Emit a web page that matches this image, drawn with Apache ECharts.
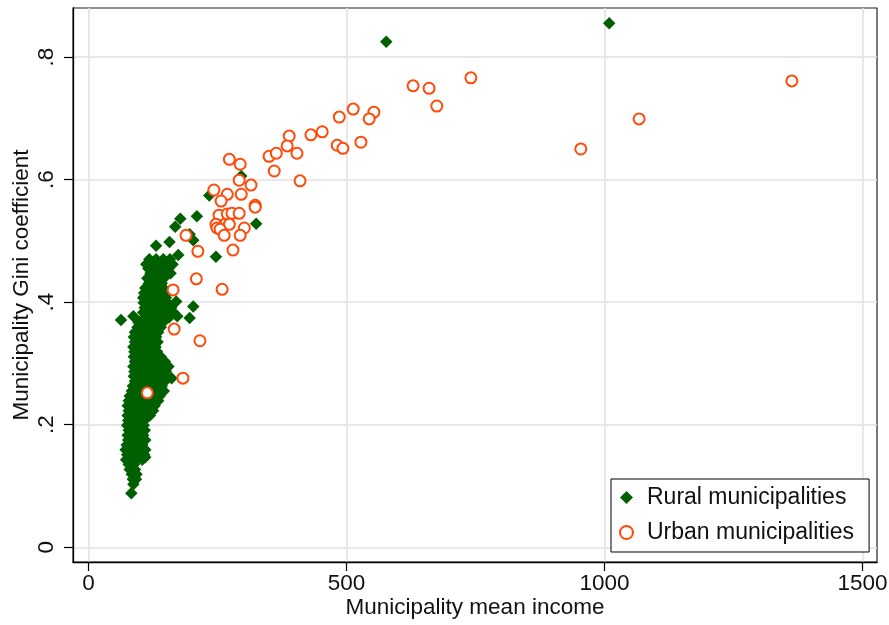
<!DOCTYPE html>
<html>
<head>
<meta charset="utf-8">
<script src="https://cdn.jsdelivr.net/npm/echarts@6/dist/echarts.min.js"></script>
<style>
  html, body { margin: 0; padding: 0; background: #fff; }
  #chart { width: 889px; height: 625px; }
</style>
</head>
<body>
<div id="chart"></div>
<script>
// ---- data ----
const xTicks = [0, 500, 1000, 1500];
const yTicks = [0, 0.2, 0.4, 0.6, 0.8];
const xTitle = 'Municipality mean income';
const yTitle = 'Municipality Gini coefficient';
const seriesNames = ['Rural municipalities', 'Urban municipalities'];

// [mean income, Gini]
const ruralPoints = [
  [118,0.470],[131,0.470],[145,0.470],[158,0.470],
  [112,0.462],[124,0.462],[139,0.462],[150,0.462],[163,0.462],
  [116,0.455],[128,0.455],[141,0.455],[155,0.455],
  [120,0.447],[133,0.447],[146,0.447],[159,0.447],
  [114,0.439],[125,0.439],[137,0.439],[146,0.439],
  [117,0.431],[129,0.431],[142,0.431],
  [110,0.423],[122,0.423],[134,0.423],[145,0.423],
  [108,0.415],[119,0.415],[131,0.415],[143,0.415],[152,0.415],
  [106,0.407],[115,0.407],[127,0.407],[139,0.407],[150,0.407],
  [107,0.399],[118,0.399],[130,0.399],[141,0.399],[153,0.399],
  [109,0.391],[121,0.391],[133,0.391],[146,0.391],[160,0.391],
  [106,0.383],[114,0.383],[126,0.383],[138,0.383],[151,0.383],[165,0.383],
  [108,0.375],[119,0.375],[131,0.375],[143,0.375],[156,0.375],
  [97,0.367],[110,0.367],[122,0.367],[134,0.367],[144,0.367],
  [95,0.359],[104,0.359],[116,0.359],[128,0.359],[140,0.359],
  [90,0.351],[101,0.351],[112,0.351],[124,0.351],[135,0.351],
  [88,0.343],[98,0.343],[109,0.343],[120,0.343],[131,0.343],
  [90,0.335],[102,0.335],[114,0.335],[126,0.335],[134,0.335],
  [87,0.327],[97,0.327],[108,0.327],[119,0.327],[130,0.327],
  [89,0.319],[100,0.319],[112,0.319],[123,0.319],[133,0.319],
  [88,0.311],[96,0.311],[107,0.311],[118,0.311],[129,0.311],[140,0.311],
  [90,0.303],[101,0.303],[113,0.303],[125,0.303],[137,0.303],[148,0.303],
  [87,0.295],[98,0.295],[109,0.295],[120,0.295],[132,0.295],[143,0.295],
  [89,0.287],[103,0.287],[115,0.287],[127,0.287],[139,0.287],[150,0.287],
  [88,0.279],[97,0.279],[108,0.279],[121,0.279],[133,0.279],[145,0.279],
  [90,0.271],[100,0.271],[112,0.271],[124,0.271],[136,0.271],[148,0.271],
  [86,0.263],[95,0.263],[106,0.263],[118,0.263],[130,0.263],[142,0.263],
  [84,0.255],[98,0.255],[110,0.255],[122,0.255],[134,0.255],[146,0.255],
  [80,0.247],[91,0.247],[103,0.247],[115,0.247],[127,0.247],[138,0.247],
  [78,0.239],[88,0.239],[99,0.239],[111,0.239],[123,0.239],[135,0.239],
  [76,0.231],[86,0.231],[97,0.231],[108,0.231],[119,0.231],[128,0.231],
  [78,0.223],[90,0.223],[101,0.223],[113,0.223],[125,0.223],
  [76,0.215],[87,0.215],[98,0.215],[109,0.215],[119,0.215],
  [77,0.207],[88,0.207],[99,0.207],[108,0.207],
  [75,0.199],[85,0.199],[96,0.199],[107,0.199],
  [78,0.191],[89,0.191],[100,0.191],[109,0.191],
  [76,0.183],[86,0.183],[97,0.183],[106,0.183],
  [77,0.175],[88,0.175],[99,0.175],[110,0.175],
  [74,0.167],[84,0.167],[95,0.167],[104,0.167],
  [72,0.159],[82,0.159],[93,0.159],[103,0.159],[110,0.159],
  [75,0.151],[86,0.151],[97,0.151],[108,0.151],
  [73,0.143],[83,0.143],[94,0.143],[104,0.143],
  [78,0.135],[88,0.135],
  [80,0.127],[90,0.127],
  [84,0.119],[93,0.119],
  [86,0.111],[92,0.111],
  [87,0.103],
  [83,0.088],
  // scattered rural municipalities
  [1009,0.855],[577,0.825],[296,0.606],[234,0.574],[325,0.528],
  [210,0.540],[178,0.536],[168,0.523],[196,0.511],[203,0.501],
  [157,0.498],[131,0.492],[174,0.477],[247,0.474],
  [170,0.401],[203,0.393],[196,0.374],[172,0.377],[63,0.371],[87,0.377],
  [155,0.295],[149,0.278],[161,0.276],[110,0.147]
];

const urbanPoints = [
  [1363,0.761],[1067,0.699],[954,0.650],[741,0.766],[629,0.753],
  [660,0.749],[675,0.720],[513,0.715],[553,0.710],[544,0.699],
  [486,0.702],[453,0.678],[431,0.673],[389,0.671],[385,0.655],
  [404,0.643],[482,0.656],[493,0.651],[528,0.661],[350,0.638],
  [364,0.643],[360,0.614],[410,0.598],[273,0.633],[294,0.625],
  [292,0.599],[315,0.591],[243,0.583],[269,0.576],[296,0.576],
  [257,0.565],[323,0.558],[323,0.555],[253,0.542],[269,0.544],
  [278,0.545],[292,0.545],[247,0.527],[273,0.527],[249,0.521],
  [255,0.519],[302,0.521],[263,0.509],[294,0.509],[189,0.509],
  [212,0.483],[280,0.485],[209,0.438],[259,0.421],[164,0.420],
  [166,0.356],[216,0.337],[183,0.276],[114,0.252]
];

// ---- chart ----
const FONT = '"Liberation Sans", Arial, Helvetica, sans-serif';
const chart = echarts.init(document.getElementById('chart'), null, { renderer: 'canvas' });

const fmtX = v => String(Math.round(v));
const fmtY = v => (Math.abs(v) < 1e-9 ? '0' : String(+v.toFixed(1)).replace(/^0\./, '.'));

chart.setOption({
  backgroundColor: '#ffffff',
  animation: false,
  textStyle: { fontFamily: FONT },
  grid: {
    left: 73, right: 12, top: 8, bottom: 63,
    containLabel: false,
    outerBoundsMode: 'none',
    show: true, borderColor: '#222', borderWidth: 1.2, backgroundColor: '#fff'
  },
  legend: {
    orient: 'vertical',
    left: 611, top: 479,
    data: seriesNames,
    backgroundColor: '#fff',
    borderColor: '#000', borderWidth: 1,
    padding: [7, 15, 8, 8],
    itemWidth: 13, itemHeight: 13,
    itemGap: 12,
    textStyle: { fontSize: 23, color: '#111', fontFamily: FONT, padding: [0, 0, 0, 9] }
  },
  xAxis: {
    type: 'value',
    min: -30, max: 1528,
    name: xTitle,
    nameLocation: 'middle',
    nameGap: 34,
    nameMoveOverlap: false,
    nameTextStyle: { fontSize: 22.5, color: '#111', fontFamily: FONT },
    axisLine: { show: true, onZero: false, lineStyle: { color: '#000', width: 1.3 } },
    axisTick: { show: true, length: 9, customValues: xTicks, lineStyle: { color: '#000', width: 1.2 } },
    axisLabel: { customValues: xTicks, fontSize: 22.5, color: '#111', margin: 10,
                 fontFamily: FONT, formatter: fmtX },
    splitLine: { show: true, lineStyle: { color: '#e2e2e2', width: 1.6 } }
  },
  yAxis: {
    type: 'value',
    min: -0.024, max: 0.88,
    name: yTitle,
    nameLocation: 'middle',
    nameGap: 40,
    nameMoveOverlap: false,
    nameTextStyle: { fontSize: 22.5, color: '#111', fontFamily: FONT },
    axisLine: { show: true, onZero: false, lineStyle: { color: '#000', width: 1.3 } },
    axisTick: { show: true, length: 9, customValues: yTicks, lineStyle: { color: '#000', width: 1.2 } },
    axisLabel: { customValues: yTicks, rotate: 90, fontSize: 22.5, color: '#111', margin: 15,
                 fontFamily: FONT, formatter: fmtY },
    splitLine: { show: true, lineStyle: { color: '#e2e2e2', width: 1.6 } }
  },
  series: [
    {
      name: seriesNames[0],
      type: 'scatter',
      symbol: 'diamond',
      symbolSize: 12.5,
      data: ruralPoints,
      itemStyle: { color: '#006000', opacity: 1 },
      z: 2
    },
    {
      name: seriesNames[1],
      type: 'scatter',
      symbol: 'emptyCircle',
      symbolSize: 11,
      data: urbanPoints,
      itemStyle: { color: '#ff4a0a', borderColor: '#ff4a0a', borderWidth: 1.8, opacity: 1 },
      z: 3
    }
  ]
});
</script>
</body>
</html>
